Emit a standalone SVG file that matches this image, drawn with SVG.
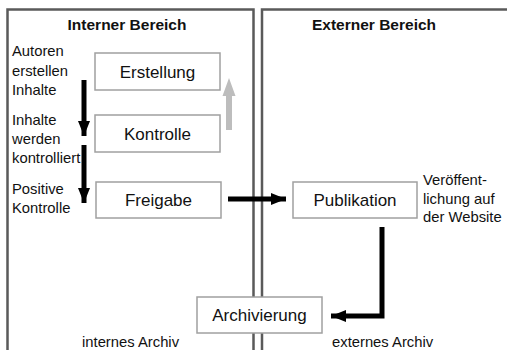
<svg xmlns="http://www.w3.org/2000/svg" width="507" height="350" viewBox="0 0 507 350">
<style>
.panel{fill:none;stroke:#5a5a5a;stroke-width:2.5}
.box{fill:#fff;stroke:#a0a0a0;stroke-width:1.5}
.t{font-family:"Liberation Sans",Arial,sans-serif;font-size:17px;fill:#111;text-anchor:middle}
.l{font-family:"Liberation Sans",Arial,sans-serif;font-size:14.8px;fill:#111}
.h{font-family:"Liberation Sans",Arial,sans-serif;font-size:15.5px;font-weight:bold;fill:#111;text-anchor:middle}
.blk{fill:none;stroke:#000;stroke-width:5}
</style>
<defs>
<marker id="ah" markerUnits="userSpaceOnUse" markerWidth="16" markerHeight="12" refX="15" refY="6" orient="auto">
<path d="M0,0 L15,6 L0,12 Z" fill="#000"/>
</marker>
</defs>
<rect width="507" height="350" fill="#fff"/>
<g id="interner-bereich">
<rect class="panel" x="7.5" y="9.5" width="246" height="360"/>
<text class="h" x="127" y="30">Interner Bereich</text>
</g>
<g id="externer-bereich">
<rect class="panel" x="262" y="9.5" width="270" height="360"/>
<text class="h" x="374" y="30">Externer Bereich</text>
</g>
<g id="labels">
<text class="l" x="12" y="56">Autoren</text>
<text class="l" x="12" y="76">erstellen</text>
<text class="l" x="12" y="95">Inhalte</text>
<text class="l" x="12" y="125">Inhalte</text>
<text class="l" x="12" y="144">werden</text>
<text class="l" x="12" y="163">kontrolliert</text>
<text class="l" x="12" y="194">Positive</text>
<text class="l" x="12" y="213">Kontrolle</text>
<text class="l" x="423" y="185">Veröffent-</text>
<text class="l" x="423" y="204">lichung auf</text>
<text class="l" x="423" y="222">der Website</text>
<text class="l" x="82" y="347">internes Archiv</text>
<text class="l" x="332" y="347">externes Archiv</text>
</g>
<g id="connectors">
<line class="blk" x1="84" y1="80" x2="84" y2="136" marker-end="url(#ah)"/>
<line class="blk" x1="84" y1="145" x2="84" y2="203" marker-end="url(#ah)"/>
<path d="M226,130 L226,96 L222.5,96 L229,78 L235.5,96 L232,96 L232,130 Z" fill="#bdbdbd"/>
<line class="blk" x1="228" y1="199" x2="286" y2="199" marker-end="url(#ah)"/>
<polyline class="blk" points="382,227 382,316 331,316" marker-end="url(#ah)"/>
</g>
<g id="erstellung">
<rect class="box" x="95" y="53" width="125" height="37"/>
<text class="t" x="157.5" y="78">Erstellung</text>
</g>
<g id="kontrolle">
<rect class="box" x="95" y="115" width="125" height="37"/>
<text class="t" x="157.5" y="140">Kontrolle</text>
</g>
<g id="freigabe">
<rect class="box" x="96" y="182" width="125" height="36"/>
<text class="t" x="158.5" y="206">Freigabe</text>
</g>
<g id="publikation">
<rect class="box" x="293" y="182" width="124" height="36"/>
<text class="t" x="355" y="206">Publikation</text>
</g>
<g id="archivierung">
<rect class="box" x="197" y="297" width="125" height="36"/>
<text class="t" x="259.5" y="321">Archivierung</text>
</g>
</svg>
